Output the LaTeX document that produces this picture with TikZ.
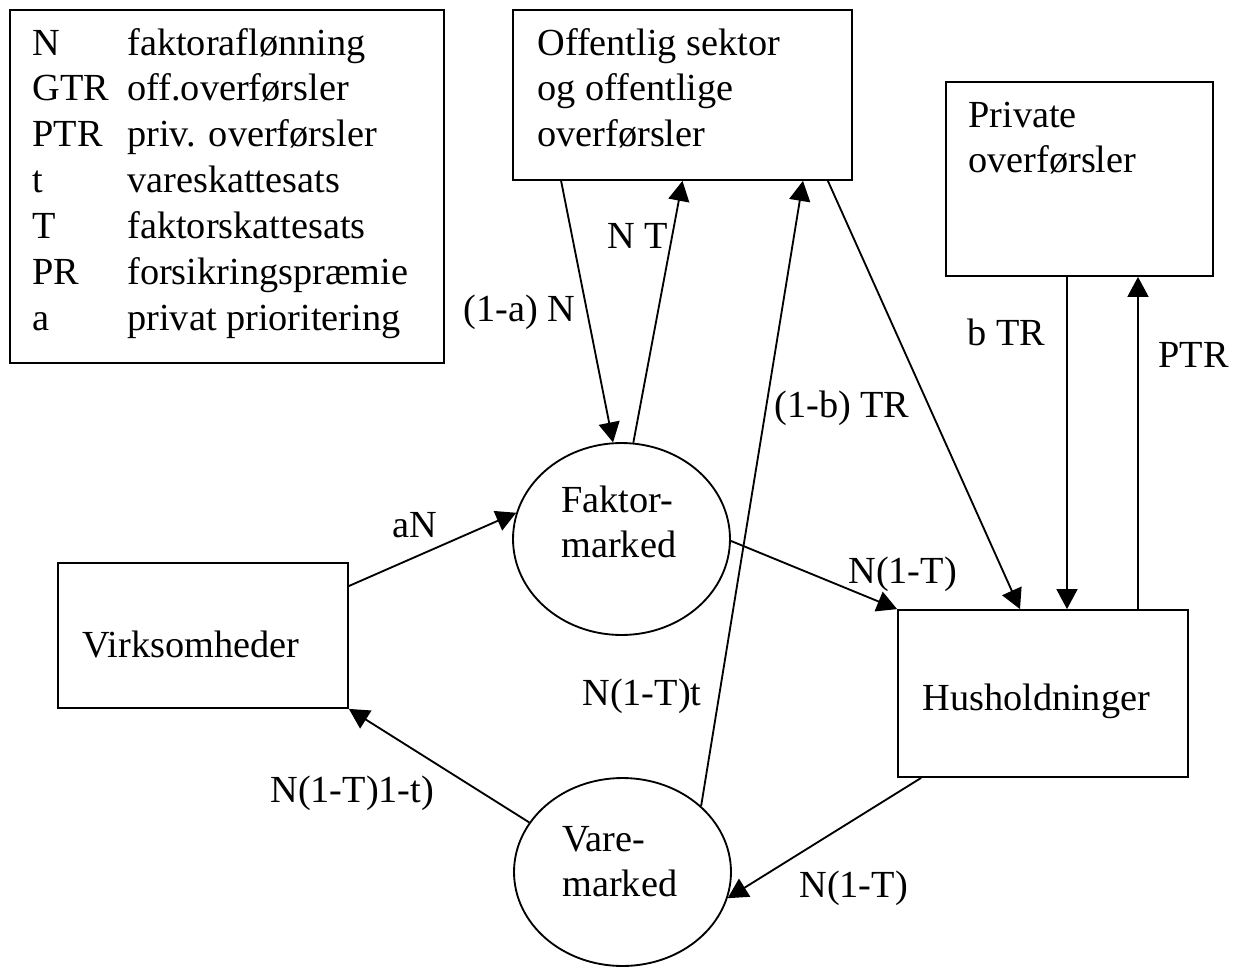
\documentclass[tikz,border=0pt]{standalone}
\usepackage{fontspec}
\setmainfont{Liberation Serif}
\usepackage{tikz}
\usetikzlibrary{arrows.meta,calc,shapes.geometric}

\begin{document}
\begin{tikzpicture}[x=0.02cm,y=-0.02cm,
  font=\fontsize{21.8}{26.1}\selectfont,
  box/.style={draw,rectangle,line width=1.05pt,inner sep=0pt},
  market/.style={draw,ellipse,line width=1.05pt,inner sep=0pt},
  flow/.style={line width=1.05pt,-{Triangle[length=0.4cm,width=0.42cm]}},
  txt/.style={anchor=base west,inner sep=0pt}]
\path[use as bounding box,fill=white] (0,0) rectangle (1241,967);

% boxes and markets
\node[box,minimum width=8.68cm,minimum height=7.06cm] (legend) at (227,186.5) {};
\node[box,minimum width=6.78cm,minimum height=3.4cm] (off) at (682.5,95) {};
\node[box,minimum width=5.34cm,minimum height=3.88cm] (priv) at (1079.5,179) {};
\node[box,minimum width=5.8cm,minimum height=2.9cm] (virk) at (203,635.5) {};
\node[box,minimum width=5.8cm,minimum height=3.34cm] (hus) at (1043,693.5) {};
\node[market,minimum width=4.34cm,minimum height=3.84cm] (fak) at (621.5,539) {};
\node[market,minimum width=4.34cm,minimum height=3.76cm] (vare) at (622.5,872) {};

% texts
\node[txt] (legtext) at (32,55) {\begin{tabular}[t]{@{}p{1.9cm}@{}l@{}}
N & faktoraflønning\\
GTR & off.overførsler\\
PTR & priv. overførsler\\
t & vareskattesats\\
T & faktorskattesats\\
PR & forsikringspræmie\\
a & privat prioritering
\end{tabular}};
\node[txt] (offtext) at (537,55) {\begin{tabular}[t]{@{}l@{}}
Offentlig sektor\\ og offentlige\\ overførsler
\end{tabular}};
\node[txt] (privtext) at (968,127) {\begin{tabular}[t]{@{}l@{}}
Private\\ overførsler
\end{tabular}};
\node[txt] (virktext) at (82,657) {Virksomheder};
\node[txt] (hustext) at (922,710) {Husholdninger};
\node[txt] (faktext) at (561,512) {\begin{tabular}[t]{@{}l@{}}
Faktor-\\ marked
\end{tabular}};
\node[txt] (varetext) at (562,851) {\begin{tabular}[t]{@{}l@{}}
Vare-\\ marked
\end{tabular}};

% flows
\draw[flow] ([xshift=0.98cm]off.south west) -- (fak.95);
\draw[flow] (fak.83) -- (off.south);
\draw[flow] (vare.40) -- ([xshift=2.41cm]off.south);
\draw[flow] ([xshift=-0.5cm]off.south east) -- ([xshift=-0.46cm]hus.north);
\draw[flow] ([xshift=-0.25cm]priv.south) -- ([xshift=0.48cm]hus.north);
\draw[flow] ([xshift=1.9cm]hus.north) -- ([xshift=1.17cm]priv.south);
\draw[flow] ([yshift=0.99cm]virk.east) -- (fak.166);
\draw[flow] (fak.-1) -- (hus.north west);
\draw[flow] ([xshift=0.48cm]hus.south west) -- (vare.-14);
\draw[flow] (vare.152) -- (virk.south east);

% flow labels
\node[txt] (la) at (463,321) {(1-a) N};
\node[txt] (lnt) at (607,248) {N T};
\node[txt] (lb) at (774,417) {(1-b) TR};
\node[txt] (lbtr) at (967,345) {b TR};
\node[txt] (lptr) at (1158,367) {PTR};
\node[txt] (lan) at (392,537) {aN};
\node[txt] (lnf) at (848,583) {N(1-T)};
\node[txt] (lnt2) at (582,705) {N(1-T)t};
\node[txt] (lnv) at (270,802) {N(1-T)1-t)};
\node[txt] (lnh) at (799,897) {N(1-T)};
\end{tikzpicture}
\end{document}
